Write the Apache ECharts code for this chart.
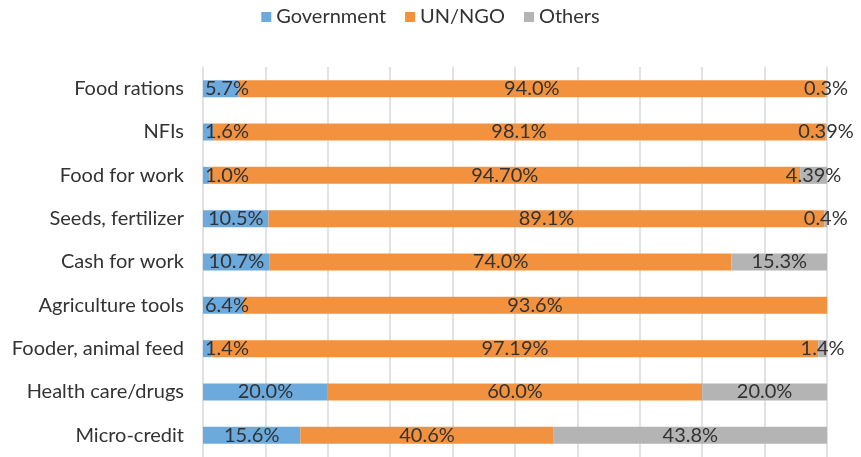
<!DOCTYPE html>
<html>
<head>
<meta charset="utf-8">
<script src="https://cdn.jsdelivr.net/npm/echarts@6/dist/echarts.min.js"></script>
<style>
  html, body { margin: 0; padding: 0; background: #fff; }
  #chart { width: 861px; height: 457px; }
</style>
</head>
<body>
<div id="chart"></div>
<script>
// Share of aid by provider, per type of assistance (percent, as printed on the bars)
const categories = [
  'Food rations', 'NFIs', 'Food for work', 'Seeds, fertilizer', 'Cash for work',
  'Agriculture tools', 'Fooder, animal feed', 'Health care/drugs', 'Micro-credit'
];
const government = ['5.7', '1.6', '1.0', '10.5', '10.7', '6.4', '1.4', '20.0', '15.6'];
const unNgo      = ['94.0', '98.1', '94.70', '89.1', '74.0', '93.6', '97.19', '60.0', '40.6'];
const others     = ['0.3', '0.39', '4.39', '0.4', '15.3', '', '1.4', '20.0', '43.8'];

const seriesNames  = ['Government', 'UN/NGO', 'Others'];
const seriesColors = ['#6CAADE', '#F2923F', '#B4B4B4'];
const FONT = 'Lato';
const FONT_SIZE = 20;
const TEXT = '#333333';
const GRID_LEFT = 203;

function makeSeries(name, color, values) {
  return {
    name: name,
    type: 'bar',
    stack: 'total',
    barWidth: 17,
    itemStyle: { color: color },
    data: values.map((v, i) => ({
      value: v === '' ? 0 : parseFloat(v),
      label: { show: v !== '', formatter: v + '%', offset: [0, -1 + i * 0.5] }
    })),
    label: {
      show: true,
      position: 'inside',
      color: TEXT,
      fontFamily: FONT,
      fontSize: FONT_SIZE
    },
    // keep value labels from spilling past the left edge of the plot
    labelLayout: function (params) {
      const minX = GRID_LEFT + 2;
      if (params.labelRect && params.labelRect.x < minX) {
        return { dx: minX - params.labelRect.x };
      }
      return {};
    },
    emphasis: { disabled: true }
  };
}

const chart = echarts.init(document.getElementById('chart'), null, { renderer: 'canvas' });
chart.setOption({
  animation: false,
  textStyle: { fontFamily: FONT },
  legend: {
    top: 2,
    left: 'center',
    itemWidth: 10,
    itemHeight: 10,
    itemGap: 19,
    icon: 'rect',
    textStyle: { color: TEXT, fontSize: FONT_SIZE, fontFamily: FONT },
    data: seriesNames
  },
  grid: { left: GRID_LEFT, right: 34, top: 67, bottom: -2 },
  xAxis: {
    type: 'value',
    min: 0,
    max: 100,
    interval: 10,
    axisLabel: { show: false },
    axisLine: { show: false },
    axisTick: { show: false },
    splitLine: { show: true, lineStyle: { color: '#D9D9D9', width: 1.5 } }
  },
  yAxis: {
    type: 'category',
    inverse: true,
    data: categories,
    axisLine: { show: false },
    axisTick: { show: false },
    axisLabel: { color: TEXT, fontSize: FONT_SIZE, fontFamily: FONT, margin: 19 }
  },
  series: [
    makeSeries(seriesNames[0], seriesColors[0], government),
    makeSeries(seriesNames[1], seriesColors[1], unNgo),
    makeSeries(seriesNames[2], seriesColors[2], others)
  ]
});
</script>
</body>
</html>
